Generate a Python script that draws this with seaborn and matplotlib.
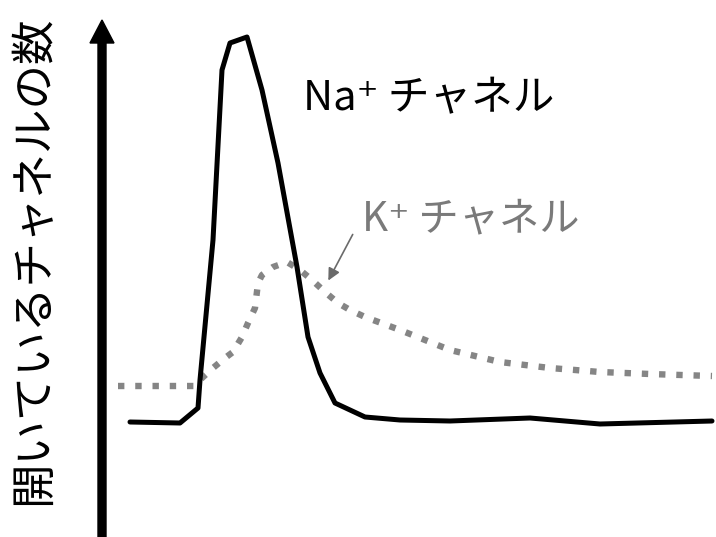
import pandas as pd
import matplotlib.pyplot as plt
import seaborn as sns

# readings (time vs. open channels, arbitrary units)
na_time = [130, 180, 198, 200, 213, 222, 230, 247, 262, 278, 297, 308, 320, 335, 365,
           400, 450, 530, 600, 712]
na_open = [115, 114, 129, 157, 297, 467, 494, 500, 447, 374, 270, 200, 164, 134, 120,
           117, 116, 119, 113, 116]

k_time = [118, 195, 202, 213, 225, 233, 242, 248, 255, 258, 262, 273, 287, 300, 312,
          325, 338, 350, 365, 400, 450, 500, 550, 600, 650, 712]
k_open = [151, 151, 159, 169, 179, 185, 200, 214, 229, 254, 262, 270, 275, 267, 257,
          245, 234, 227, 220, 207, 187, 175, 169, 165, 163, 161]

y_label = "開いているチャネルの数"
na_label = "Na⁺ チャネル"
k_label = "K⁺ チャネル"

df_na = pd.DataFrame({"t": na_time, "n": na_open})
df_k = pd.DataFrame({"t": k_time, "n": k_open})

sns.set_theme(style="white")
plt.rcParams["font.family"] = ["Noto Sans CJK JP", "DejaVu Sans"]

fig = plt.figure(figsize=(7.16, 5.37), dpi=100)
ax = fig.add_axes([0, 0, 1, 1])

sns.lineplot(data=df_k, x="t", y="n", ax=ax, color="#858585", linewidth=4.6,
             sort=False, estimator=None, linestyle=(0, (1, 1.7)),
             dash_capstyle="butt")
sns.lineplot(data=df_na, x="t", y="n", ax=ax, color="black", linewidth=3.6,
             sort=False, estimator=None)

# vertical axis drawn as a thick arrow
ax.arrow(102, 0, 0, 517, width=8, head_width=24, head_length=23,
         length_includes_head=True, color="black")

ax.text(33, 277, y_label, rotation=90, ha="center", va="center",
        fontsize=32, color="black")
ax.text(303, 427, na_label, ha="left", va="baseline", fontsize=30, color="black")
ax.text(362, 307, k_label, ha="left", va="baseline", fontsize=29, color="#7a7a7a")
ax.annotate("", xy=(327, 254), xytext=(354, 305),
            arrowprops=dict(arrowstyle="-|>", color="#6a6a6a", lw=1.2,
                            mutation_scale=18))

ax.set_xlim(0, 716)
ax.set_ylim(0, 537)
ax.set_axis_off()

plt.savefig("out.png", dpi=100)
